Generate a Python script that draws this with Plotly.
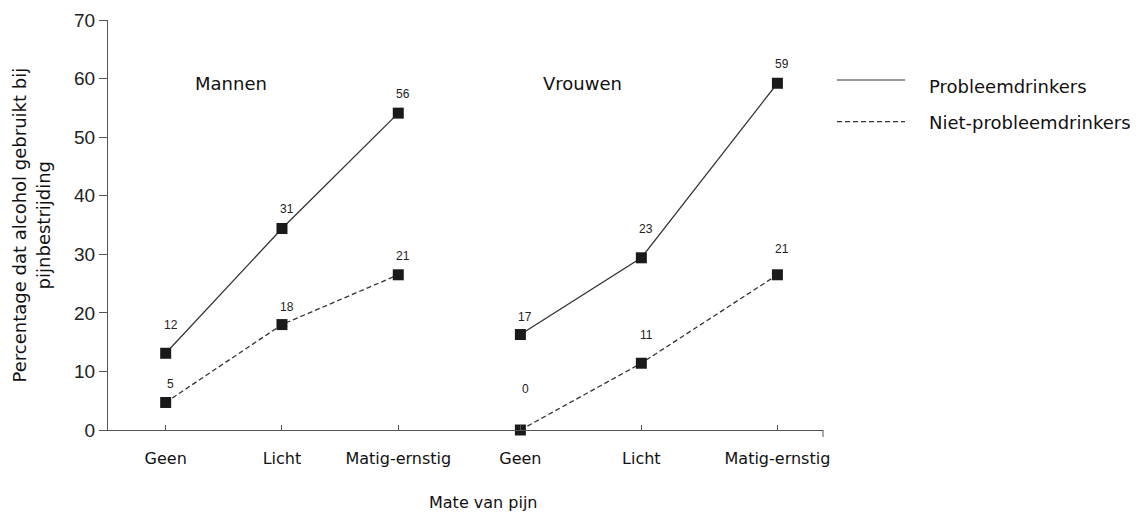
import plotly.graph_objects as go

# ---- data ----
groups = ["Mannen", "Vrouwen"]
categories = ["Geen", "Licht", "Matig-ernstig"]
series_names = ["Probleemdrinkers", "Niet-probleemdrinkers"]

# plotted heights
probleem_mannen = [13.1, 34.4, 54.1]
niet_mannen = [4.7, 18.0, 26.5]
probleem_vrouwen = [16.3, 29.4, 59.2]
niet_vrouwen = [0.0, 11.4, 26.5]

# printed labels
labels_probleem_mannen = ["12", "31", "56"]
labels_niet_mannen = ["5", "18", "21"]
labels_probleem_vrouwen = ["17", "23", "59"]
labels_niet_vrouwen = ["0", "11", "21"]

y_ticks = [0, 10, 20, 30, 40, 50, 60, 70]

# ---- layout helpers (positions / styles) ----
slot_pos = {"Mannen": [0, 1, 2], "Vrouwen": [3.05, 4.09, 5.26]}
label_shift = {
    ("Mannen", 0): [28, 20, 19.5],
    ("Mannen", 1): [18.6, 17.6, 18.3],
    ("Vrouwen", 0): [18, 28.6, 19.7],
    ("Vrouwen", 1): [41, 28, 25.5],
}
line_color = "#333333"
marker_color = "#1a1a1a"
dash_style = "5px,3px"

values = {
    ("Mannen", 0): probleem_mannen,
    ("Mannen", 1): niet_mannen,
    ("Vrouwen", 0): probleem_vrouwen,
    ("Vrouwen", 1): niet_vrouwen,
}
labels = {
    ("Mannen", 0): labels_probleem_mannen,
    ("Mannen", 1): labels_niet_mannen,
    ("Vrouwen", 0): labels_probleem_vrouwen,
    ("Vrouwen", 1): labels_niet_vrouwen,
}

fig = go.Figure()
annotations = []
for g in groups:
    for s, name in enumerate(series_names):
        xs = slot_pos[g]
        ys = values[(g, s)]
        fig.add_trace(go.Scatter(
            x=xs, y=ys, mode="lines+markers", name=name,
            showlegend=False, cliponaxis=False, hoverinfo="skip",
            line=dict(color=line_color, width=1.3,
                      dash="solid" if s == 0 else dash_style),
            marker=dict(symbol="square", size=11, color=marker_color),
        ))
        for xv, yv, txt, sh in zip(xs, ys, labels[(g, s)], label_shift[(g, s)]):
            annotations.append(dict(
                x=xv, y=yv, xref="x", yref="y", text=txt, showarrow=False,
                xshift=5, yshift=sh, xanchor="center", yanchor="middle",
                font=dict(family="Liberation Sans", size=12, color="#222222"),
            ))

# group labels
annotations.append(dict(x=0.1185, y=0.846, xref="paper", yref="paper", text="Mannen",
                        showarrow=False, xanchor="left", yanchor="middle",
                        font=dict(family="DejaVu Sans", size=18, color="#111111")))
annotations.append(dict(x=0.605, y=0.846, xref="paper", yref="paper", text="Vrouwen",
                        showarrow=False, xanchor="left", yanchor="middle",
                        font=dict(family="DejaVu Sans", size=18, color="#111111")))

# axis titles
annotations.append(dict(x=-0.107, y=0.5, xref="paper", yref="paper",
                        text="Percentage dat alcohol gebruikt bij<br>pijnbestrijding",
                        showarrow=False, textangle=-90, xanchor="center", yanchor="middle",
                        font=dict(family="DejaVu Sans", size=18, color="#111111")))
annotations.append(dict(x=0.446, y=-0.176, xref="paper", yref="paper", text="Mate van pijn",
                        showarrow=False, xanchor="left", yanchor="middle",
                        font=dict(family="DejaVu Sans", size=16, color="#111111")))

# manual legend
legend_rows = [(0.8537, 0.837, "solid"), (0.752, 0.749, dash_style)]
shapes = []
for (ly, ty, dash), name in zip(legend_rows, series_names):
    shapes.append(dict(type="line", xref="paper", yref="paper", x0=1.0196, x1=1.1147,
                       y0=ly, y1=ly, line=dict(color=line_color, width=1.2, dash=dash)))
    annotations.append(dict(x=1.146, y=ty, xref="paper", yref="paper", text=name,
                            showarrow=False, xanchor="left", yanchor="middle",
                            font=dict(family="DejaVu Sans", size=18, color="#111111")))
# end cap on x-axis
shapes.append(dict(type="line", xref="paper", yref="paper", x0=1, x1=1, y0=0, y1=-0.017,
                   line=dict(color="#555555", width=1)))

tick_vals = slot_pos["Mannen"] + slot_pos["Vrouwen"]
tick_text = categories + categories

# page body has an 8px margin -> figure sized/offset to compensate
fig.update_layout(
    width=1135, height=506,
    margin=dict(l=100, r=320, t=12, b=84, autoexpand=False),
    paper_bgcolor="white", plot_bgcolor="white",
    showlegend=False,
    annotations=annotations,
    shapes=shapes,
    xaxis=dict(range=[-0.496, 5.652], tickvals=tick_vals, ticktext=tick_text,
               automargin=False,
               showgrid=False, zeroline=False, showline=True, linecolor="#555555",
               linewidth=1, ticks="inside", ticklen=5, tickcolor="#555555",
               ticklabelstandoff=14,
               tickfont=dict(family="DejaVu Sans", size=16, color="#111111")),
    yaxis=dict(range=[0, 70], tickvals=y_ticks, showgrid=False, zeroline=False,
               automargin=False,
               showline=True, linecolor="#555555", linewidth=1, ticks="outside",
               ticklen=8, tickcolor="#555555",
               tickfont=dict(family="Liberation Sans", size=19, color="#222222")),
)

fig.write_html("out.html")
